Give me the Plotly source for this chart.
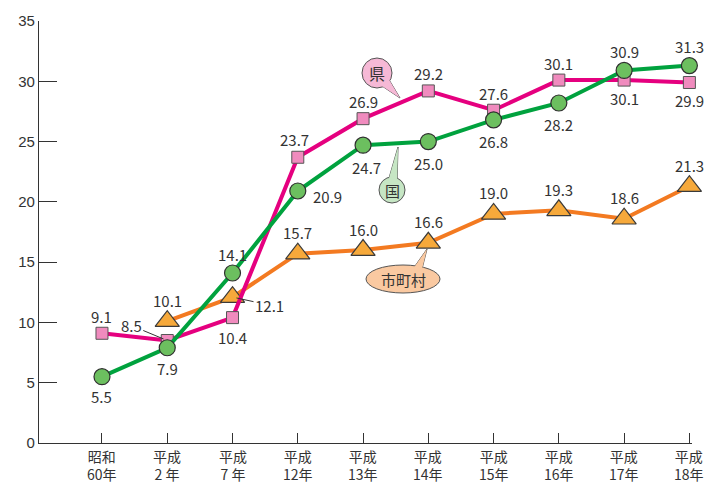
import plotly.graph_objects as go

cat_top = ["昭和", "平成", "平成", "平成", "平成", "平成", "平成", "平成", "平成", "平成"]
cat_bottom = ["60年", "2 年", "7 年", "12年", "13年", "14年", "15年", "16年", "17年", "18年"]
ken = [9.1, 8.5, 10.4, 23.7, 26.9, 29.2, 27.6, 30.1, 30.1, 29.9]
kuni = [5.5, 7.9, 14.1, 20.9, 24.7, 25.0, 26.8, 28.2, 30.9, 31.3]
shichoson = [None, 10.1, 12.1, 15.7, 16.0, 16.6, 19.0, 19.3, 18.6, 21.3]
y_ticks = [0, 5, 10, 15, 20, 25, 30, 35]

# label placement (x shift, y shift) per point
ken_pos = [(0, 17), (-36, 15), (0, -20), (-3, 18), (0, 17), (0, 17), (0, 17), (0, 17), (0, -18), (0, -18)]
kuni_pos = [(0, -20), (0, -21), (0, 18), (30, -5), (3, -22), (0, -22), (0, -22), (0, -22), (0, 19), (0, 19)]
cho_pos = [None, (0, 21), (37, -8), (0, 21), (0, 21), (0, 21), (0, 21), (0, 21), (0, 21), (0, 21)]

PINK = "#E5007F"
GREEN = "#00A23E"
ORANGE = "#F37A21"
LABEL_FONT = dict(family="Noto Sans CJK JP, Liberation Sans", size=15, color="#333333")
CAT_FONT = dict(family="Noto Sans CJK JP", size=14, color="#333333")

xs = list(range(len(cat_top)))
fig = go.Figure()
fig.add_trace(go.Scatter(x=xs, y=shichoson, mode="lines+markers", cliponaxis=False,
                         line=dict(color=ORANGE, width=4),
                         marker=dict(symbol="triangle-up", size=21, color="#F6A93B",
                                     line=dict(color="#3a3a3a", width=1.2))))
fig.add_trace(go.Scatter(x=xs, y=ken, mode="lines+markers", cliponaxis=False,
                         line=dict(color=PINK, width=4),
                         marker=dict(symbol="square", size=12, color="#F08BBE",
                                     line=dict(color="#555555", width=1))))
fig.add_trace(go.Scatter(x=xs, y=kuni, mode="lines+markers", cliponaxis=False,
                         line=dict(color=GREEN, width=4),
                         marker=dict(symbol="circle", size=16, color="#6CBF5F",
                                     line=dict(color="#2f2f2f", width=1.2))))

annotations = []
def add_labels(vals, pos, leaders=()):
    for i, v in enumerate(vals):
        if v is None:
            continue
        dx, dy = pos[i]
        if i in leaders:
            annotations.append(dict(x=i, y=v, xref="x", yref="y", text=f"{v:.1f}",
                                    showarrow=True, arrowhead=0, arrowwidth=1, arrowcolor="#333333",
                                    ax=dx, ay=-dy, standoff=4, font=LABEL_FONT))
        else:
            annotations.append(dict(x=i, y=v, xref="x", yref="y", text=f"{v:.1f}",
                                    showarrow=False, xshift=dx, yshift=dy, font=LABEL_FONT))

add_labels(ken, ken_pos, leaders=(1,))
add_labels(kuni, kuni_pos)
add_labels(shichoson, cho_pos, leaders=(2,))

# two-line category labels
for i in xs:
    annotations.append(dict(x=i, y=0, xref="x", yref="y", text=cat_top[i] + "<br>" + cat_bottom[i],
                            showarrow=False, yanchor="top", yshift=-2, borderpad=0, font=CAT_FONT))

# plot area in pixels
L, R, T, B = 39, 692, 21, 443
W, H = R - L, B - T
def px2paper(px, py):
    return (px - L) / W, (B - py) / H

shapes = []
def bubble(cx, cy, rx, ry, tip, base, fill, text, fsize):
    xa, ya = px2paper(cx, cy)
    (b1x, b1y), (b2x, b2y) = base
    tx, ty = tip
    path = f"M {b1x - cx},{cy - b1y} L {tx - cx},{cy - ty} L {b2x - cx},{cy - b2y} Z"
    common = dict(xref="paper", yref="paper", xsizemode="pixel", ysizemode="pixel",
                  xanchor=xa, yanchor=ya, layer="above")
    shapes.append(dict(type="path", path=path, fillcolor=fill, line=dict(color="#555555", width=1), **common))
    shapes.append(dict(type="circle", x0=-rx, x1=rx, y0=-ry, y1=ry, fillcolor=fill,
                       line=dict(color="#555555", width=1), **common))
    shapes.append(dict(type="path", path=path, fillcolor=fill, line=dict(width=0), **common))
    annotations.append(dict(x=xa, y=ya, xref="paper", yref="paper", text=text, showarrow=False,
                            xanchor="center", yanchor="middle",
                            font=dict(family="Noto Sans CJK JP", size=fsize, color="#333333")))

bubble(377, 73, 15, 15, (400, 98), ((373, 80), (385, 73)), "#F6B9D6", "県", 16)
bubble(392, 190, 13, 13, (398, 147), ((387, 185), (397, 185)), "#C6E6C4", "国", 15)
bubble(403, 279, 37, 14, (427, 249), ((408, 276), (420, 277)), "#FAC9A1", "市町村", 15)

fig.update_layout(
    width=714, height=485, margin=dict(l=L, r=714 - R, t=T, b=485 - B),
    paper_bgcolor="white", plot_bgcolor="white", showlegend=False,
    annotations=annotations, shapes=shapes,
    xaxis=dict(range=[-0.965, 9.04], tickmode="array", tickvals=xs, showticklabels=False,
               ticks="inside", ticklen=10, tickcolor="#333333", tickwidth=1, automargin=False,
               showline=True, linecolor="#333333", linewidth=1.2, showgrid=False, zeroline=False),
    yaxis=dict(range=[0, 35], tickmode="array", tickvals=y_ticks, automargin=False,
               ticks="inside", ticklen=18, tickcolor="#333333", tickwidth=1,
               showline=True, linecolor="#333333", linewidth=1.2, showgrid=False, zeroline=False,
               tickfont=dict(family="Liberation Sans Narrow, Liberation Sans", size=15, color="#333333")),
)
fig.write_html("out.html")
